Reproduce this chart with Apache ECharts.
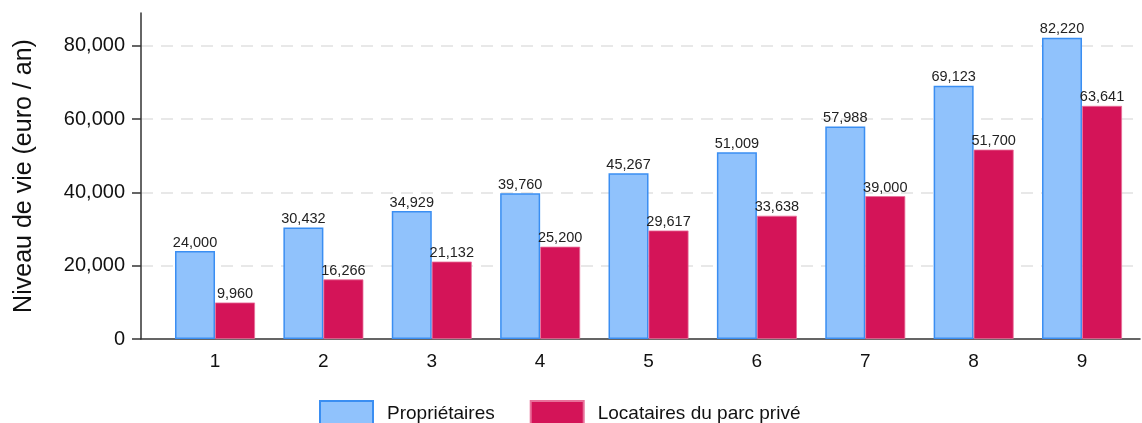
<!DOCTYPE html>
<html>
<head>
<meta charset="utf-8">
<script src="https://cdn.jsdelivr.net/npm/echarts@6/dist/echarts.min.js"></script>
<style>
  html, body { margin: 0; padding: 0; background: #fff; }
  #chart { width: 1142px; height: 423px; }
</style>
</head>
<body>
<div id="chart"></div>
<script>
// 数据
const categories = [1, 2, 3, 4, 5, 6, 7, 8, 9];
const proprietaires = [24000, 30432, 34929, 39760, 45267, 51009, 57988, 69123, 82220];
const locataires = [9960, 16266, 21132, 25200, 29617, 33638, 39000, 51700, 63641];
const yTicks = [0, 20000, 40000, 60000, 80000];

const fmt = v => v.toLocaleString('en-US');

const chart = echarts.init(document.getElementById('chart'));

const labelStyle = {
  show: true,
  position: 'top',
  distance: 1,
  fontSize: 14.5,
  color: '#222',
  fontFamily: 'Liberation Sans',
  formatter: p => fmt(p.value[1])
};

const option = {
  animation: false,
  textStyle: { fontFamily: 'Liberation Sans' },
  grid: { left: 141, right: 2, top: 13, bottom: 84 },
  legend: {
    top: 400,
    left: 319,
    padding: 0,
    itemWidth: 53,
    itemHeight: 26,
    itemGap: 35,
    icon: 'rect',
    textStyle: { fontSize: 19, color: '#111', padding: [0, 0, 0, 9] },
    data: ['Propriétaires', 'Locataires du parc privé']
  },
  xAxis: {
    type: 'value',
    min: 0.317,
    max: 9.535,
    axisLine: { show: true, onZero: false, lineStyle: { color: '#333', width: 1.5 } },
    axisTick: { show: false },
    splitLine: { show: false },
    axisLabel: {
      customValues: categories,
      fontSize: 19,
      color: '#111',
      margin: 13,
      formatter: v => String(v)
    }
  },
  yAxis: {
    type: 'value',
    min: 0,
    max: 89000,
    interval: 20000,
    name: 'Niveau de vie (euro / an)',
    nameLocation: 'middle',
    nameGap: 104,
    nameTextStyle: { fontSize: 25, color: '#111' },
    axisLine: { show: true, lineStyle: { color: '#333', width: 1.5 } },
    axisTick: { show: true, customValues: yTicks, length: 9, lineStyle: { color: '#333', width: 1.5 } },
    axisLabel: {
      customValues: yTicks,
      fontSize: 20,
      color: '#111',
      margin: 16,
      formatter: v => fmt(v)
    },
    splitLine: {
      show: true,
      showMinLine: false,
      lineStyle: { color: '#e8e8e8', width: 2, type: [12, 8] }
    }
  },
  series: [
    {
      name: 'Propriétaires',
      type: 'bar',
      barWidth: 40,
      barGap: '0%',
      data: categories.map((c, i) => [c, proprietaires[i]]),
      itemStyle: { color: '#90c2fc', borderColor: '#3a8ef2', borderWidth: 1.5 },
      label: labelStyle
    },
    {
      name: 'Locataires du parc privé',
      type: 'bar',
      barWidth: 40,
      barGap: '0%',
      data: categories.map((c, i) => [c, locataires[i]]),
      itemStyle: { color: '#d41458', borderColor: '#e8709a', borderWidth: 0.8 },
      label: labelStyle
    }
  ]
};

chart.setOption(option);
</script>
</body>
</html>
